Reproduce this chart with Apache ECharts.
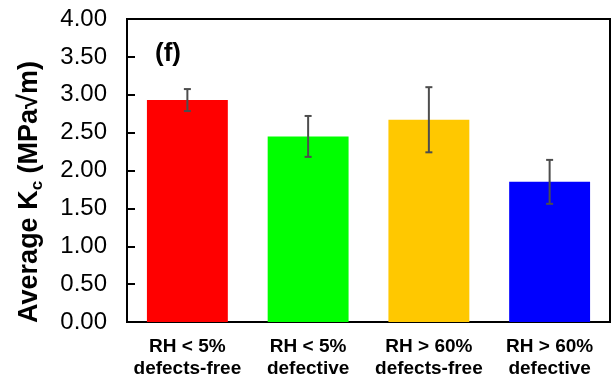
<!DOCTYPE html>
<html>
<head>
<meta charset="utf-8">
<script src="https://cdn.jsdelivr.net/npm/echarts@6/dist/echarts.min.js"></script>
<style>
  html, body { margin: 0; padding: 0; background: #fff; }
  #chart { width: 613px; height: 380px; }
</style>
</head>
<body>
<div id="chart"></div>
<script>
// Fracture toughness by humidity condition and specimen quality
const categories = ['RH < 5%\ndefects-free', 'RH < 5%\ndefective', 'RH > 60%\ndefects-free', 'RH > 60%\ndefective'];
const meanKc = [2.93, 2.45, 2.67, 1.85];
const errKc = [0.145, 0.27, 0.43, 0.29];
const barColors = ['#ff0000', '#00ff00', '#ffc800', '#0000ff'];
const yTicks = [0, 0.5, 1, 1.5, 2, 2.5, 3, 3.5, 4];

const FONT = '"Liberation Sans", Arial, sans-serif';

const chart = echarts.init(document.getElementById('chart'), null, { renderer: 'canvas' });

chart.setOption({
  animation: false,
  backgroundColor: '#ffffff',
  grid: {
    left: 127, right: 3, top: 19, bottom: 58,
    show: true, borderColor: '#000', borderWidth: 2, backgroundColor: 'transparent'
  },
  graphic: [
    {
      type: 'text',
      x: 168, y: 54,
      style: {
        text: '(f)', font: 'bold 26px ' + FONT, fill: '#000',
        align: 'center', verticalAlign: 'middle'
      }
    },
    {
      type: 'text',
      x: 30, y: 192,
      rotation: Math.PI / 2,
      style: {
        text: '{m|Average K}{s|c}{m| (MPa√m)}',
        align: 'center', verticalAlign: 'middle',
        rich: {
          m: { font: 'bold 27px ' + FONT, fill: '#000', verticalAlign: 'middle' },
          s: { font: 'bold 17px ' + FONT, fill: '#000', verticalAlign: 'bottom', padding: [14, 0, 0, 0] }
        }
      }
    }
  ],
  xAxis: {
    type: 'category',
    data: categories,
    axisLine: { lineStyle: { color: '#000', width: 2 } },
    axisTick: { show: false },
    axisLabel: {
      interval: 0,
      margin: 14,
      color: '#000',
      fontFamily: FONT,
      fontWeight: 'bold',
      fontSize: 19,
      lineHeight: 22
    }
  },
  yAxis: {
    type: 'value',
    min: 0, max: 4, interval: 0.5,
    splitLine: { show: false },
    axisLine: { show: true, lineStyle: { color: '#000', width: 2 } },
    axisTick: { show: true, inside: true, length: 8, lineStyle: { color: '#000', width: 2 } },
    axisLabel: {
      margin: 20,
      color: '#000',
      fontFamily: FONT,
      fontSize: 24,
      formatter: v => yTicks.includes(v) ? v.toFixed(2) : ''
    }
  },
  series: [
    {
      type: 'bar',
      data: meanKc.map((v, i) => ({ value: v, itemStyle: { color: barColors[i] } })),
      barWidth: '67%'
    },
    {
      type: 'custom',
      z: 10,
      data: meanKc.map((v, i) => [i, v - errKc[i], v + errKc[i]]),
      renderItem: (params, api) => {
        const lo = api.coord([api.value(0), api.value(1)]);
        const hi = api.coord([api.value(0), api.value(2)]);
        const cap = 3.5;
        const style = { stroke: '#4d4d4d', lineWidth: 2 };
        return {
          type: 'group',
          children: [
            { type: 'line', shape: { x1: hi[0], y1: hi[1], x2: lo[0], y2: lo[1] }, style },
            { type: 'line', shape: { x1: hi[0] - cap, y1: hi[1], x2: hi[0] + cap, y2: hi[1] }, style },
            { type: 'line', shape: { x1: lo[0] - cap, y1: lo[1], x2: lo[0] + cap, y2: lo[1] }, style }
          ]
        };
      }
    }
  ]
});
</script>
</body>
</html>
